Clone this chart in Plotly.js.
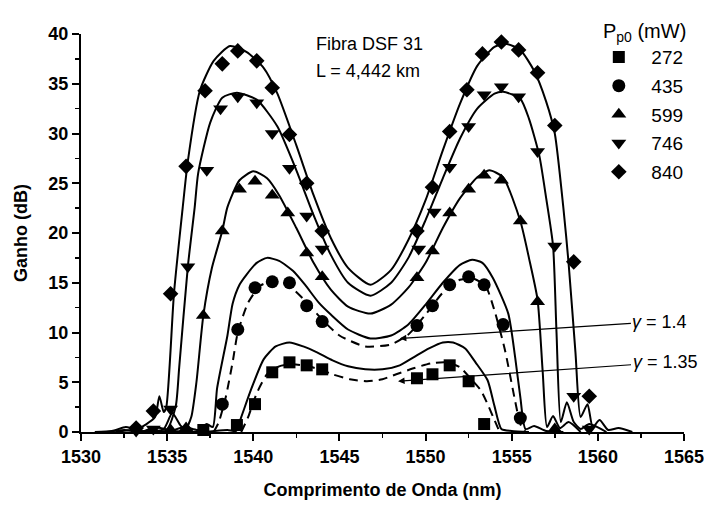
<!DOCTYPE html>
<html><head><meta charset="utf-8">
<script src="https://cdn.plot.ly/plotly-3.0.1.min.js"></script>
<style>html,body{margin:0;padding:0;background:#fff}</style>
</head><body><div id="chart" style="width:704px;height:510px"></div>
<script>
// ---- measured gain (markers) ----
const seriesNames = ['272', '435', '599', '746', '840'];

const x272 = [1537.1, 1539.05, 1540.1, 1541.1, 1542.1, 1543.1, 1544.0, 1549.5, 1550.4, 1551.4, 1552.5, 1553.4];
const y272 = [0.2, 0.7, 2.8, 6.0, 7.0, 6.7, 6.3, 5.4, 5.8, 6.7, 5.1, 0.8];

const x435 = [1538.2, 1539.1, 1540.1, 1541.1, 1542.1, 1543.1, 1544.0, 1549.5, 1550.4, 1551.4, 1552.5, 1553.4, 1554.5, 1555.5];
const y435 = [2.8, 10.3, 14.5, 15.1, 15.0, 12.7, 11.1, 10.7, 12.7, 14.8, 15.6, 14.8, 10.8, 1.4];

const x599 = [1535.2, 1536.1, 1537.1, 1538.2, 1539.2, 1540.1, 1541.1, 1542.0, 1543.1, 1544.0, 1549.5, 1550.4, 1551.4, 1552.5, 1553.4, 1554.4, 1555.5, 1556.5, 1557.5];
const y599 = [0.2, 0.4, 11.7, 20.2, 24.4, 25.2, 23.8, 22.0, 18.0, 15.6, 15.5, 18.2, 22.0, 24.4, 25.8, 25.3, 21.2, 13.1, 0.3];

const x746 = [1533.2, 1534.2, 1535.2, 1536.2, 1537.3, 1538.1, 1539.1, 1540.2, 1541.1, 1542.1, 1543.1, 1544.0, 1549.6, 1550.5, 1551.4, 1552.5, 1553.4, 1554.4, 1555.4, 1556.5, 1557.5, 1558.6, 1559.5];
const y746 = [0.1, 0.3, 2.3, 16.6, 26.3, 32.5, 33.7, 33.1, 30.0, 26.5, 21.7, 18.4, 18.4, 22.1, 26.6, 30.7, 33.9, 34.7, 33.7, 28.2, 18.7, 3.6, 0.3];

const x840 = [1533.2, 1534.2, 1535.2, 1536.1, 1537.2, 1538.2, 1539.1, 1540.2, 1541.1, 1542.1, 1543.1, 1544.0, 1549.5, 1550.4, 1551.4, 1552.4, 1553.3, 1554.4, 1555.4, 1556.5, 1557.5, 1558.6, 1559.5];
const y840 = [0.4, 2.1, 13.9, 26.7, 34.3, 37.0, 38.3, 37.3, 34.6, 29.9, 25.0, 20.2, 20.2, 24.6, 30.2, 34.4, 38.0, 39.2, 38.4, 36.1, 30.8, 17.1, 3.6];

// ---- simulated curves (solid) ----
const fx840 = [1530.8, 1531.8, 1532.6, 1533.2, 1533.8, 1534.3, 1534.55, 1534.8, 1534.95, 1535.4, 1535.9, 1536.2, 1536.9, 1537.7, 1538.65, 1539.6, 1540.6, 1541.4, 1542.5, 1543.5, 1544.5, 1545.5, 1546.8, 1548.0, 1549.0, 1550.0, 1551.0, 1552.0, 1553.0, 1554.0, 1554.7, 1555.5, 1556.3, 1557.0, 1557.5, 1558.0, 1558.3, 1558.7, 1559.0, 1559.4, 1559.7, 1560.1, 1560.6, 1561.2, 1562.0];
const fy840 = [0, 0.1, 0.5, 0.3, 0.8, 1.5, 3.6, 2.0, 2.5, 14.0, 22.5, 27.2, 34.3, 37.3, 38.8, 38.2, 36.6, 34.0, 28.8, 23.8, 19.5, 16.5, 14.8, 16.3, 19.3, 23.3, 28.3, 33.0, 36.8, 38.7, 39.0, 38.4, 36.3, 33.2, 30.0, 22.5, 17.0, 8.0, 1.5, 2.8, 0.5, 1.2, 0.2, 0.4, 0];

const fx746 = [1531.5, 1532.5, 1533.5, 1534.3, 1535.0, 1535.5, 1535.7, 1536.2, 1536.6, 1536.8, 1537.5, 1538.2, 1539.05, 1540.2, 1541.4, 1542.5, 1543.5, 1544.5, 1545.5, 1546.8, 1548.0, 1549.0, 1550.0, 1551.0, 1552.0, 1553.0, 1554.0, 1554.5, 1555.5, 1556.0, 1556.6, 1557.0, 1557.4, 1557.6, 1557.85, 1558.2, 1558.6, 1559.0, 1559.5, 1560.5];
const fy746 = [0, 0.2, 0, 0.5, 0.3, 2.6, 6.5, 16.6, 22.6, 26.0, 31.1, 33.6, 34.1, 33.4, 30.7, 26.3, 21.8, 17.8, 15.0, 13.7, 15.0, 17.5, 21.3, 25.5, 29.5, 32.5, 34.0, 34.2, 33.5, 31.5, 27.8, 23.5, 18.7, 10.0, 1.0, 3.0, 1.0, 0.3, 0.8, 0];

const fx599 = [1532, 1533, 1534, 1534.8, 1535.3, 1535.8, 1536.1, 1536.4, 1536.7, 1537.1, 1537.6, 1538.2, 1538.5, 1539.2, 1540.0, 1540.8, 1541.5, 1542.5, 1543.5, 1544.5, 1545.5, 1546.8, 1548.0, 1549.0, 1550.0, 1551.0, 1552.0, 1553.0, 1553.7, 1554.5, 1555.5, 1556.0, 1556.5, 1556.8, 1557.05, 1557.4, 1557.8, 1558.3, 1559];
const fy599 = [0, 0.2, 0, 0.3, 1.9, 0.6, 0.4, 1.5, 5.0, 11.7, 16.5, 20.2, 22.6, 25.3, 26.2, 25.5, 23.8, 20.5, 17.0, 14.3, 12.6, 11.9, 12.8, 14.5, 17.0, 20.5, 23.5, 25.6, 26.3, 25.6, 21.2, 17.5, 13.3, 6.0, 0.5, 1.6, 0.4, 1.0, 0];

const fx435 = [1533, 1534, 1535, 1536, 1536.8, 1537.3, 1537.65, 1537.9, 1538.5, 1538.8, 1539.2, 1539.6, 1540.2, 1540.8, 1541.5, 1542.3, 1543.0, 1543.8, 1544.5, 1545.5, 1546.8, 1548.0, 1549.0, 1550.0, 1551.0, 1552.0, 1552.7, 1553.3, 1553.9, 1554.8, 1555.2, 1555.5, 1555.8, 1556.3, 1557, 1558];
const fy435 = [0, 0.1, 0, 0.5, 0.2, 0.8, 0.5, 4.4, 9.7, 12.9, 14.8, 15.8, 17.0, 17.5, 17.2, 16.2, 14.8, 13.0, 11.8, 10.3, 9.4, 9.7, 10.8, 12.8, 15.0, 16.8, 17.3, 17.0, 15.5, 11.9, 7.5, 3.5, 0.3, 0.6, 0.1, 0];

const fx272 = [1533, 1535, 1537, 1538.5, 1539.0, 1539.3, 1539.9, 1540.6, 1541.3, 1542.1, 1542.9, 1543.7, 1544.6, 1545.5, 1546.5, 1547.5, 1548.5, 1549.3, 1550.2, 1551.0, 1551.6, 1552.3, 1552.9, 1553.6, 1554.0, 1554.4, 1555, 1556];
const fy272 = [0, 0.1, 0, 0.2, 0.1, 1.5, 4.4, 7.3, 8.6, 9.0, 8.6, 8.0, 7.2, 6.6, 6.3, 6.3, 6.7, 7.5, 8.4, 9.0, 9.0, 8.4, 7.0, 5.2, 2.6, 0.3, 0.1, 0];

// ---- simulated curves (dashed) ----
const dx435 = [1537.7, 1538.0, 1538.4, 1538.8, 1539.1, 1539.7, 1540.4, 1541.2, 1542.0, 1543.0, 1544.0, 1545.0, 1546.5, 1548.0, 1549.0, 1550.0, 1551.0, 1552.0, 1552.8, 1553.5, 1554.0, 1554.6, 1555.2, 1555.5, 1555.8];
const dy435 = [0, 1.0, 3.5, 7.0, 10.0, 13.0, 14.7, 15.2, 14.8, 13.2, 11.3, 9.7, 8.6, 8.8, 9.8, 11.8, 14.0, 15.3, 15.4, 14.6, 12.2, 8.3, 3.1, 0.8, 0];

const dx272 = [1539.3, 1539.7, 1540.2, 1540.8, 1541.5, 1542.3, 1543.2, 1544.0, 1544.6, 1545.6, 1546.6, 1547.5, 1548.3, 1549.3, 1550.3, 1551.2, 1552.0, 1552.6, 1553.2, 1553.6, 1554.0, 1554.3];
const dy272 = [0, 1.5, 3.9, 5.8, 6.6, 6.8, 6.6, 6.2, 5.8, 5.3, 5.1, 5.3, 5.8, 6.4, 6.9, 7.0, 6.5, 5.4, 4.2, 2.8, 1.2, 0];

// ---- axes ticks and text ----
const xTicks = [1530, 1535, 1540, 1545, 1550, 1555, 1560, 1565];
const yTicks = [0, 5, 10, 15, 20, 25, 30, 35, 40];
const xTitle = 'Comprimento de Onda (nm)';
const yTitle = 'Ganho (dB)';
const legendTitle = 'P<sub>p0</sub> (mW)';
const infoLines = ['Fibra DSF 31', 'L = 4,442 km'];
const gammaLabels = ['<i>γ</i> = 1.4', '<i>γ</i> = 1.35'];
// arrow targets (nm, dB) and label positions
const gammaHeadX = [1548.5, 1548.4];
const gammaHeadY = [9.4, 5.1];
const gammaTextX = [1563.6, 1563.9];
const gammaTextY = [11.1, 7.0];

const FONT = 'Liberation Sans, Arial, sans-serif';

const markerDefs = [
  {x: x272, y: y272, symbol: 'square', size: 12},
  {x: x435, y: y435, symbol: 'circle', size: 13},
  {x: x599, y: y599, symbol: 'triangle-up', size: 13},
  {x: x746, y: y746, symbol: 'triangle-down', size: 13},
  {x: x840, y: y840, symbol: 'diamond', size: 12}
];

const traces = [];
const solid = [[fx272, fy272], [fx435, fy435], [fx599, fy599], [fx746, fy746], [fx840, fy840]];
solid.forEach(c => traces.push({
  x: c[0], y: c[1], mode: 'lines', showlegend: false, hoverinfo: 'skip',
  line: {color: '#000', width: 2, shape: 'spline', smoothing: 0.6}
}));
[[dx272, dy272], [dx435, dy435]].forEach(c => traces.push({
  x: c[0], y: c[1], mode: 'lines', showlegend: false, hoverinfo: 'skip',
  line: {color: '#000', width: 2, dash: '9px,6px', shape: 'spline', smoothing: 0.6}
}));
markerDefs.forEach((m, i) => traces.push({
  x: m.x, y: m.y, mode: 'markers', name: seriesNames[i], legendgroup: 'g' + i,
  cliponaxis: false,
  marker: {symbol: m.symbol, size: m.size, color: '#000'}
}));

const annotations = [];
infoLines.forEach((t, i) => annotations.push({
  xref: 'x', yref: 'y', x: 1543.5, y: i === 0 ? 39.0 : 36.3, xanchor: 'left', yanchor: 'middle',
  text: t, showarrow: false, font: {family: FONT, size: 18, color: '#000'}
}));
gammaLabels.forEach((t, i) => annotations.push({
  xref: 'x', yref: 'y', x: gammaHeadX[i], y: gammaHeadY[i],
  axref: 'x', ayref: 'y', ax: gammaTextX[i], ay: gammaTextY[i],
  text: t, showarrow: true, arrowhead: 2, arrowsize: 1.1, arrowwidth: 1.2, arrowcolor: '#000',
  font: {family: FONT, size: 18, color: '#000'}
}));

const axisCommon = {
  showline: true, linecolor: '#000', linewidth: 2, mirror: false,
  ticks: 'outside', ticklen: 7, tickwidth: 2, tickcolor: '#000',
  showgrid: false, zeroline: false, tickmode: 'array', ticklabeloverflow: 'allow',
  tickfont: {family: FONT, size: 18, color: '#000', weight: 'bold'}
};

const layout = {
  width: 704, height: 510,
  margin: {l: 81, r: 20, t: 22, b: 78},
  paper_bgcolor: '#fff', plot_bgcolor: '#fff',
  font: {family: FONT, color: '#000'},
  xaxis: Object.assign({}, axisCommon, {
    range: [1530, 1565], tickvals: xTicks, ticktext: xTicks.map(String),
    minor: {ticks: 'outside', ticklen: 4, tickwidth: 1.5, tickcolor: '#000', showgrid: false, dtick: 2.5, tick0: 1530},
    title: {text: xTitle, standoff: 18, font: {family: FONT, size: 18, color: '#000', weight: 'bold'}}
  }),
  yaxis: Object.assign({}, axisCommon, {
    range: [0, 40], tickvals: yTicks, ticktext: yTicks.map(String),
    minor: {ticks: 'outside', ticklen: 4, tickwidth: 1.5, tickcolor: '#000', showgrid: false, dtick: 2.5, tick0: 0},
    title: {text: yTitle, standoff: 16, font: {family: FONT, size: 18, color: '#000', weight: 'bold'}}
  }),
  showlegend: true,
  legend: {
    x: 0.838, xanchor: 'left', y: 1.055, yanchor: 'top',
    bgcolor: 'rgba(0,0,0,0)', borderwidth: 0,
    itemwidth: 55, tracegroupgap: 1, traceorder: 'grouped',
    font: {family: FONT, size: 19, color: '#000'},
    title: {text: legendTitle, side: 'top right', font: {family: FONT, size: 20, color: '#000'}}
  },
  annotations: annotations
};

Plotly.newPlot('chart', traces, layout, {staticPlot: true, displayModeBar: false});
</script></body></html>
